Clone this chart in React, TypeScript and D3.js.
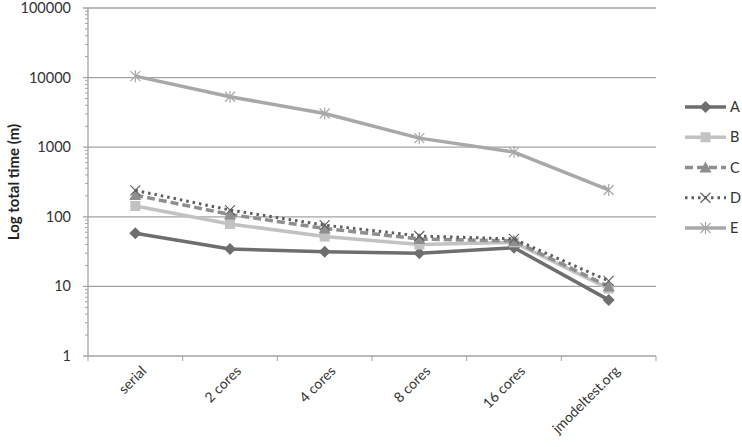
import React from 'react'
import * as d3 from 'd3'

const categories = ['serial', '2 cores', '4 cores', '8 cores', '16 cores', 'jmodeltest.org']
const seriesNames = ['A', 'B', 'C', 'D', 'E']
const valuesA = [58, 34.5, 31.5, 30, 36, 6.4]
const valuesB = [143, 79, 52, 40, 43, 9.3]
const valuesC = [205, 108, 68, 48, 45, 10]
const valuesD = [240, 125, 76, 53, 48, 12]
const valuesE = [10500, 5300, 3050, 1350, 850, 243]
const yTicks = [1, 10, 100, 1000, 10000, 100000]

const W = 742
const H = 447
const margin = {top: 8, right: 86, bottom: 91, left: 88}

const styles = [
  {color: '#6e6e6e', dash: null, marker: 'diamond', width: 3.5},
  {color: '#c2c2c2', dash: null, marker: 'square', width: 3.5},
  {color: '#8e8e8e', dash: '8 4', marker: 'triangle', width: 3.5},
  {color: '#5e5e5e', dash: '2.5 4', marker: 'x', width: 3},
  {color: '#a8a8a8', dash: null, marker: 'star', width: 3.5},
]

const Marker = ({type, x, y, color}: {type: string, x: number, y: number, color: string}) => {
  if (type === 'diamond') {
    return <path d={`M${x},${y - 6}L${x + 6},${y}L${x},${y + 6}L${x - 6},${y}Z`} fill={color} />
  }
  if (type === 'square') {
    return <rect x={x - 5} y={y - 5} width={10} height={10} fill={color} />
  }
  if (type === 'triangle') {
    return <path d={`M${x},${y - 6}L${x + 6},${y + 5}L${x - 6},${y + 5}Z`} fill={color} />
  }
  if (type === 'x') {
    return <path d={`M${x - 5},${y - 5}L${x + 5},${y + 5}M${x - 5},${y + 5}L${x + 5},${y - 5}`}
      stroke={color} strokeWidth={1.1} fill="none" />
  }
  return <path d={`M${x - 5},${y - 5}L${x + 5},${y + 5}M${x - 5},${y + 5}L${x + 5},${y - 5}M${x},${y - 6}L${x},${y + 6}`}
    stroke={color} strokeWidth={1.2} fill="none" />
}

export default function App() {
  const data = [valuesA, valuesB, valuesC, valuesD, valuesE]

  const x = d3.scaleBand()
    .domain(categories)
    .range([margin.left, W - margin.right])

  const y = d3.scaleLog()
    .domain([1, 100000])
    .range([H - margin.bottom, margin.top])

  const cx = (c: string) => (x(c) ?? 0) + x.bandwidth() / 2

  const minor: number[] = []
  for (let p = 1; p < 100000; p *= 10) {
    for (let k = 2; k <= 9; k++) minor.push(p * k)
  }

  const line = d3.line<[string, number]>()
    .x(d => cx(d[0]))
    .y(d => y(d[1]))

  const legendY = d3.scalePoint()
    .domain(seriesNames)
    .range([107, 228])

  const bottom = H - margin.bottom
  const boundaries = categories.map(c => x(c) ?? 0).concat([W - margin.right])

  return (
    <svg width={W} height={H} style={{position: 'absolute', left: 0, top: 0, background: '#fff'}}
      fontFamily="Lato, 'Open Sans', sans-serif">
      {yTicks.map(t => (
        <g key={t}>
          <line x1={margin.left - 5} x2={W - margin.right} y1={y(t)} y2={y(t)} stroke="#a3a3a3" strokeWidth={1.3} />
          <text x={71} y={y(t)} dy="0.35em" textAnchor="end" fontSize={14.5} fill="#333">{t}</text>
        </g>
      ))}
      {minor.map(t => (
        <line key={t} x1={margin.left - 3} x2={margin.left} y1={y(t)} y2={y(t)} stroke="#a3a3a3" strokeWidth={1} />
      ))}
      <line x1={margin.left} x2={margin.left} y1={margin.top} y2={bottom} stroke="#a3a3a3" strokeWidth={1.3} />
      {boundaries.map((b, i) => (
        <line key={i} x1={b} x2={b} y1={bottom} y2={bottom + 5} stroke="#a3a3a3" strokeWidth={1} />
      ))}
      {categories.map(c => (
        <text key={c} transform={`translate(${cx(c) + 5},${bottom + 9}) rotate(-45)`}
          textAnchor="end" dy="0.7em" fontSize={14} fill="#333">{c}</text>
      ))}
      <text transform={`translate(19,${(margin.top + bottom) / 2}) rotate(-90)`}
        textAnchor="middle" fontSize={15} fontWeight="bold" fill="#222">Log total time (m)</text>

      {data.map((vals, i) => {
        const s = styles[i]
        const pts = categories.map((c, j) => [c, vals[j]] as [string, number])
        return (
          <g key={seriesNames[i]}>
            <path d={line(pts) ?? ''} fill="none" stroke={s.color} strokeWidth={s.width}
              strokeDasharray={s.dash ?? undefined} strokeLinejoin="round" />
            {pts.map(p => (
              <Marker key={p[0]} type={s.marker} x={cx(p[0])} y={y(p[1])} color={s.color} />
            ))}
          </g>
        )
      })}

      {seriesNames.map((n, i) => {
        const s = styles[i]
        const ly = legendY(n) ?? 0
        return (
          <g key={n}>
            <line x1={685} x2={726} y1={ly} y2={ly} stroke={s.color} strokeWidth={s.width}
              strokeDasharray={s.dash ?? undefined} />
            <Marker type={s.marker} x={705.5} y={ly} color={s.color} />
            <text x={730} y={ly} dy="0.35em" fontSize={14.5} fill="#333">{n}</text>
          </g>
        )
      })}
    </svg>
  )
}
